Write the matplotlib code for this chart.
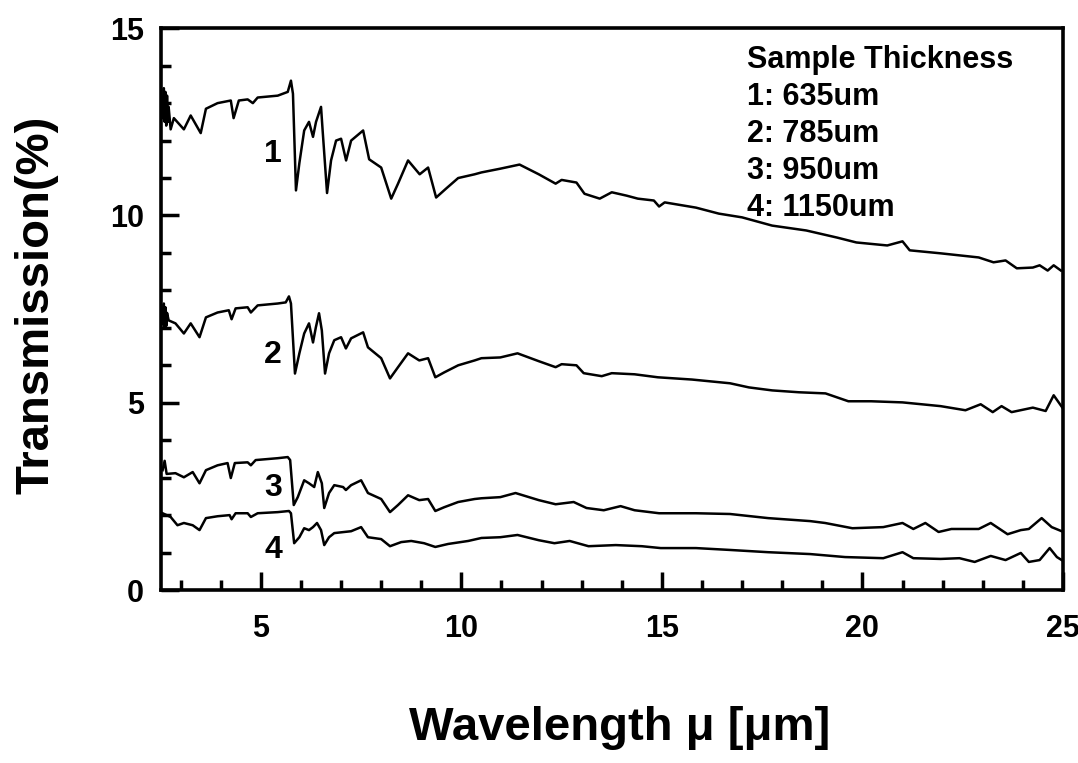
import matplotlib
matplotlib.use("Agg")
import matplotlib.pyplot as plt
from matplotlib.ticker import MultipleLocator

plt.rcParams['font.family'] = ['Liberation Sans', 'DejaVu Sans']

# ---- data ----
x1 = [2.55, 2.58, 2.60, 2.62, 2.64, 2.66, 2.68, 2.70, 2.75, 2.83, 3.08, 3.25, 3.5, 3.63, 3.92, 4.25, 4.32, 4.45, 4.67, 4.8, 4.92,
      5.42, 5.67, 5.75, 5.8, 5.875, 5.96, 6.08, 6.2, 6.3, 6.375, 6.5, 6.54, 6.65, 6.75, 6.875, 7.0, 7.125,
      7.25, 7.55, 7.7, 8.0, 8.25, 8.42, 8.67, 8.96, 9.17, 9.37, 9.62, 9.92, 10.33, 10.5, 10.97, 11.45,
      11.93, 12.35, 12.5, 12.87, 13.07, 13.45, 13.75, 14.12, 14.4, 14.8, 14.93, 15.07, 15.85, 16.42,
      17.0, 17.75, 18.6, 19.37, 19.85, 20.62, 21.0, 21.18, 21.95, 22.9, 23.27, 23.57, 23.85, 24.25,
      24.42, 24.62, 24.77, 24.95]
y1 = [12.6, 13.4, 12.5, 13.3, 12.4, 13.2, 12.5, 12.9, 12.3, 12.6, 12.3, 12.67, 12.2, 12.85, 13.0, 13.07, 12.6, 13.07, 13.1, 13.0, 13.15,
      13.2, 13.3, 13.6, 13.25, 10.67, 11.4, 12.27, 12.5, 12.1, 12.5, 12.9, 12.27, 10.6, 11.47, 12.0, 12.05, 11.47,
      12.0, 12.27, 11.5, 11.28, 10.45, 10.85, 11.47, 11.1, 11.28, 10.48, 10.72, 11.0, 11.1, 11.15, 11.25, 11.36,
      11.1, 10.85, 10.95, 10.88, 10.58, 10.45, 10.62, 10.53, 10.45, 10.4, 10.24, 10.35, 10.21, 10.05,
      9.95, 9.73, 9.6, 9.41, 9.28, 9.2, 9.31, 9.07, 8.99, 8.88, 8.75, 8.8, 8.59, 8.61,
      8.67, 8.53, 8.67, 8.53]

x2 = [2.55, 2.58, 2.60, 2.62, 2.64, 2.66, 2.70, 2.87, 3.08, 3.25, 3.47, 3.63, 3.92, 4.2, 4.27, 4.37, 4.67, 4.75, 4.92, 5.42,
      5.62, 5.7, 5.75, 5.85, 5.96, 6.08, 6.2, 6.3, 6.37, 6.45, 6.52, 6.6, 6.7, 6.83, 7.0, 7.12, 7.25,
      7.55, 7.67, 8.0, 8.22, 8.42, 8.67, 8.95, 9.17, 9.35, 9.57, 9.92, 10.33, 10.5, 10.97, 11.4, 11.93,
      12.35, 12.5, 12.87, 13.05, 13.5, 13.75, 14.32, 14.9, 15.75, 16.7, 17.17, 17.75, 18.42, 19.08,
      19.65, 20.22, 21.0, 21.95, 22.57, 22.95, 23.25, 23.47, 23.72, 24.25, 24.57, 24.77, 25.0]
y2 = [7.1, 7.65, 7.0, 7.55, 7.05, 7.4, 7.2, 7.12, 6.85, 7.12, 6.75, 7.28, 7.41, 7.47, 7.23, 7.52, 7.55, 7.41, 7.6, 7.65,
      7.68, 7.84, 7.65, 5.78, 6.32, 6.85, 7.12, 6.61, 7.01, 7.39, 6.93, 5.78, 6.32, 6.67, 6.75, 6.45, 6.72,
      6.88, 6.48, 6.19, 5.65, 5.95, 6.32, 6.13, 6.19, 5.68, 5.81, 6.0, 6.13, 6.19, 6.21, 6.32, 6.11,
      5.95, 6.03, 6.0, 5.79, 5.71, 5.79, 5.76, 5.68, 5.62, 5.52, 5.41, 5.33, 5.28, 5.25,
      5.04, 5.04, 5.01, 4.91, 4.8, 4.96, 4.75, 4.91, 4.75, 4.87, 4.78, 5.2, 4.85]

x3 = [2.55, 2.60, 2.65, 2.87, 3.08, 3.3, 3.47, 3.63, 3.92, 4.17, 4.25, 4.35, 4.67, 4.75, 4.87, 5.42, 5.67, 5.73,
      5.82, 5.92, 6.08, 6.2, 6.33, 6.42, 6.52, 6.58, 6.7, 6.83, 7.05, 7.12, 7.25, 7.5, 7.67, 8.0, 8.22,
      8.42, 8.67, 8.95, 9.17, 9.35, 9.57, 9.92, 10.33, 10.5, 10.97, 11.35, 11.93, 12.35, 12.8, 13.12,
      13.55, 13.97, 14.32, 14.93, 15.85, 16.7, 17.65, 18.7, 19.07, 19.75, 20.52, 21.0, 21.27, 21.57,
      21.9, 22.22, 22.9, 23.2, 23.62, 23.95, 24.15, 24.47, 24.72, 24.97]
y3 = [3.2, 3.45, 3.1, 3.12, 3.01, 3.15, 2.85, 3.2, 3.33, 3.39, 2.99, 3.39, 3.41, 3.33, 3.47, 3.52, 3.55, 3.47,
      2.27, 2.48, 2.93, 2.85, 2.75, 3.15, 2.85, 2.19, 2.59, 2.8, 2.75, 2.67, 2.8, 2.93, 2.59, 2.43, 2.08,
      2.27, 2.53, 2.4, 2.43, 2.11, 2.21, 2.35, 2.43, 2.45, 2.48, 2.59, 2.4, 2.29, 2.35, 2.19,
      2.13, 2.24, 2.13, 2.05, 2.05, 2.03, 1.92, 1.84, 1.79, 1.65, 1.68, 1.79, 1.63, 1.79,
      1.55, 1.63, 1.63, 1.79, 1.49, 1.6, 1.63, 1.92, 1.68, 1.57]

x4 = [2.55, 2.75, 2.92, 3.08, 3.3, 3.47, 3.63, 3.92, 4.22, 4.27, 4.37, 4.67, 4.75, 4.92, 5.42, 5.7, 5.75, 5.83,
      5.96, 6.08, 6.2, 6.3, 6.4, 6.5, 6.58, 6.7, 6.83, 7.08, 7.25, 7.5, 7.67, 8.0, 8.22, 8.5, 8.75,
      9.07, 9.35, 9.67, 10.17, 10.5, 10.97, 11.4, 11.93, 12.32, 12.7, 13.17, 13.85, 14.5, 14.97, 15.85,
      16.7, 17.65, 18.7, 19.57, 20.52, 21.0, 21.27, 21.95, 22.42, 22.8, 23.2, 23.57, 23.95, 24.15,
      24.42, 24.67, 24.85, 24.97]
y4 = [2.05, 1.95, 1.73, 1.79, 1.73, 1.6, 1.92, 1.97, 2.0, 1.89, 2.05, 2.05, 1.95, 2.05, 2.08, 2.11, 2.05, 1.25,
      1.41, 1.65, 1.6, 1.68, 1.79, 1.6, 1.2, 1.41, 1.52, 1.55, 1.57, 1.68, 1.41, 1.36, 1.17, 1.28, 1.31,
      1.25, 1.15, 1.23, 1.31, 1.39, 1.41, 1.47, 1.33, 1.25, 1.31, 1.17, 1.2, 1.17, 1.12, 1.12,
      1.07, 1.01, 0.96, 0.88, 0.85, 1.01, 0.85, 0.83, 0.85, 0.75, 0.91, 0.8, 0.99, 0.75,
      0.8, 1.12, 0.88, 0.8]

curve_labels = ["1", "2", "3", "4"]
label_pos_x = [5.3, 5.3, 5.3, 5.3]
label_pos_y = [11.65, 6.27, 2.72, 1.07]
legend_lines = ["Sample Thickness", "1: 635um", "2: 785um", "3: 950um", "4: 1150um"]

# ---- figure ----
fig = plt.figure(figsize=(10.78, 7.63), dpi=100)
ax = fig.add_axes([0.149, 0.2267, 0.837, 0.7363])

for xs, ys in [(x1, y1), (x2, y2), (x3, y3), (x4, y4)]:
    ax.plot(xs, ys, color='black', lw=1.8)

for lab, lx, ly in zip(curve_labels, label_pos_x, label_pos_y):
    ax.text(lx, ly, lab, fontsize=23, fontweight='bold', ha='center', va='center')

for i, t in enumerate(legend_lines):
    ax.text(0.65, 0.943 - i * 0.0658, t, transform=ax.transAxes, fontsize=22,
            fontweight='bold', ha='left', va='center')

ax.set_xlim(2.5, 25)
ax.set_ylim(0, 15)
ax.xaxis.set_major_locator(MultipleLocator(5))
ax.xaxis.set_minor_locator(MultipleLocator(1))
ax.yaxis.set_major_locator(MultipleLocator(5))
ax.yaxis.set_minor_locator(MultipleLocator(1))
ax.tick_params(which='both', direction='in', top=False, right=False, width=2.5)
ax.tick_params(which='major', length=13)
ax.tick_params(which='minor', length=7)
ax.tick_params(axis='x', which='major', pad=17, labelsize=22)
ax.tick_params(axis='y', which='major', pad=12, labelsize=22)
for lbl in ax.get_xticklabels() + ax.get_yticklabels():
    lbl.set_fontweight('bold')
for s in ax.spines.values():
    s.set_linewidth(2.6)

fig.text(37 / 1078, 1 - 305 / 763, "Transmission(%)", rotation=90, fontsize=34,
         fontweight='bold', ha='center', va='center')
fig.text(620 / 1078, 1 - 728 / 763, "Wavelength μ [μm]", fontsize=34,
         fontweight='bold', ha='center', va='center')

fig.savefig("out.png", dpi=100)
